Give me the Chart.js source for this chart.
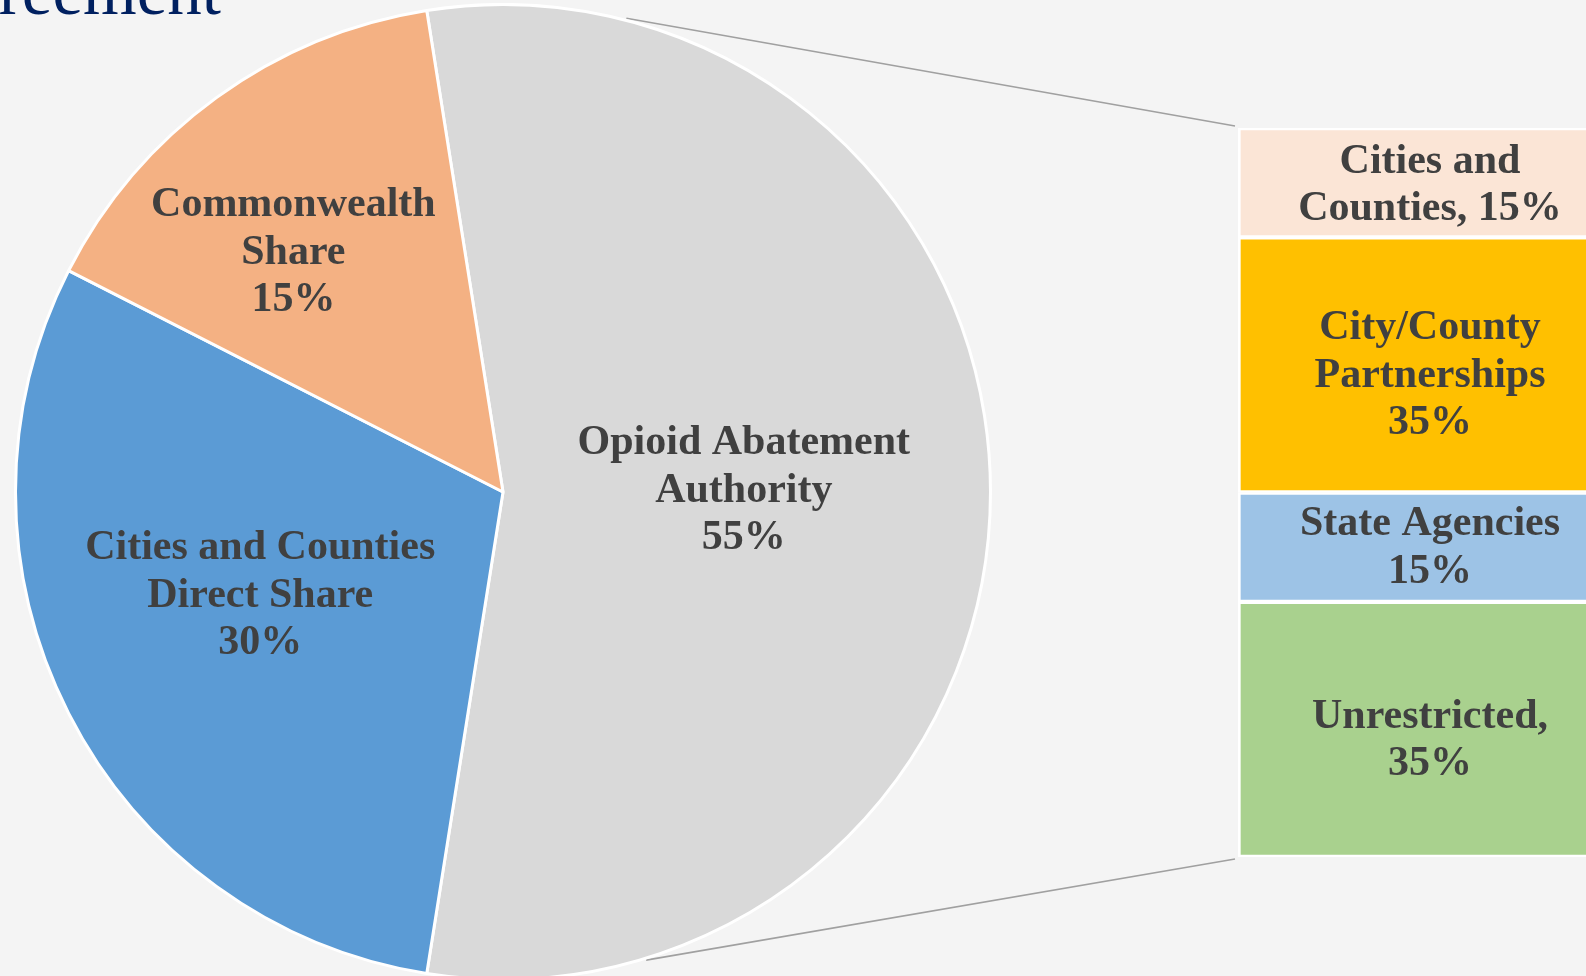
<!DOCTYPE html>
<html>
<head>
<meta charset="utf-8">
<script src="https://cdn.jsdelivr.net/npm/chart.js@4"></script>
<style>
  html, body { margin:0; padding:0; width:1586px; height:976px; overflow:hidden; background:#F4F4F4; }
  #title { position:absolute; right:1365px; top:-43px; font-family:"Liberation Serif", serif; font-size:69px; line-height:68px; color:#002060; white-space:nowrap; }
  #pieBox { position:absolute; left:14px; top:3px; width:978px; height:978px; }
  #barBox { position:absolute; left:1238px; top:128px; width:384px; height:729px; }
  #overlay { position:absolute; left:0; top:0; pointer-events:none; }
</style>
</head>
<body>
<div id="title">Agreement</div>
<canvas id="overlay" width="1586" height="976"></canvas>
<div id="pieBox"><canvas id="pie"></canvas></div>
<div id="barBox"><canvas id="bar"></canvas></div>
<script>
// ---- data ----
const pieCategories = ["Opioid Abatement Authority", "Cities and Counties Direct Share", "Commonwealth Share"];
const pieValues = [55, 30, 15];
const pieLabelLines = [["Opioid Abatement", "Authority", "55%"], ["Cities and Counties", "Direct Share", "30%"], ["Commonwealth", "Share", "15%"]];

// bar segments listed bottom to top
const barCategories = ["Unrestricted", "State Agencies", "City/County Partnerships", "Cities and Counties"];
const barValues = [35, 15, 35, 15];
const barLabelLines = [["Unrestricted,", "35%"], ["State Agencies", "15%"], ["City/County", "Partnerships", "35%"], ["Cities and", "Counties, 15%"]];

// ---- styles ----
const pieColors = ["#D9D9D9", "#5B9BD5", "#F4B183"];
const barColors = ["#A9D18E", "#9DC3E6", "#FFC000", "#FBE5D6"];
const labelFont = 'bold 42px "Liberation Serif", serif';
const labelColor = "#404040";
const lineH = 47.5;
// label centre offsets as fraction of radius (x, y)
const pieLabelPos = [[0.494, -0.002], [-0.498, 0.213], [-0.43, -0.490]];
// vertical nudges for bar labels (px)
const barLabelShift = [11, 1, 11, 3];
// connector angles on pie (degrees clockwise from top)
const connectorAngles = [14.6, 163.0];

function drawLines(ctx, lines, x, y) {
  ctx.save();
  ctx.font = labelFont;
  ctx.fillStyle = labelColor;
  ctx.textAlign = "center";
  ctx.textBaseline = "middle";
  const y0 = y - (lines.length - 1) * lineH / 2;
  lines.forEach((t, i) => ctx.fillText(t, x, y0 + i * lineH));
  ctx.restore();
}

const pieLabelPlugin = {
  id: "pieLabels",
  afterDraw(chart) {
    const meta = chart.getDatasetMeta(0);
    const ctx = chart.ctx;
    meta.data.forEach((arc, i) => {
      const r = arc.outerRadius;
      drawLines(ctx, pieLabelLines[i], arc.x + pieLabelPos[i][0] * r, arc.y + pieLabelPos[i][1] * r);
    });
  }
};

const barLabelPlugin = {
  id: "barLabels",
  afterDraw(chart) {
    const ctx = chart.ctx;
    chart.data.datasets.forEach((ds, i) => {
      const el = chart.getDatasetMeta(i).data[0];
      drawLines(ctx, barLabelLines[i], el.x, (el.y + el.base) / 2 + barLabelShift[i]);
    });
  }
};

Chart.defaults.animation = false;
Chart.defaults.devicePixelRatio = 1;

const pieChart = new Chart(document.getElementById("pie"), {
  type: "pie",
  data: {
    labels: pieCategories,
    datasets: [{ data: pieValues, backgroundColor: pieColors, borderColor: "#FFFFFF", borderWidth: 3 }]
  },
  options: {
    responsive: true,
    maintainAspectRatio: false,
    rotation: -9,
    layout: { padding: 0 },
    plugins: { legend: { display: false }, tooltip: { enabled: false } }
  },
  plugins: [pieLabelPlugin]
});

const barChart = new Chart(document.getElementById("bar"), {
  type: "bar",
  data: {
    labels: [""],
    datasets: barCategories.map((c, i) => ({
      label: c,
      data: [barValues[i]],
      backgroundColor: barColors[i],
      borderColor: "#FFFFFF",
      borderWidth: { top: 2.5, bottom: 2.5, left: 3, right: 3 },
      borderSkipped: false,
      categoryPercentage: 1,
      barPercentage: 1
    }))
  },
  options: {
    responsive: true,
    maintainAspectRatio: false,
    layout: { padding: 0 },
    scales: {
      x: { display: false, stacked: true },
      y: { display: false, stacked: true, min: 0, max: 100 }
    },
    plugins: { legend: { display: false }, tooltip: { enabled: false } }
  },
  plugins: [barLabelPlugin]
});

// connector lines
(function () {
  const ov = document.getElementById("overlay").getContext("2d");
  const pieRect = document.getElementById("pie").getBoundingClientRect();
  const barRect = document.getElementById("bar").getBoundingClientRect();
  const arc = pieChart.getDatasetMeta(0).data[0];
  const cx = pieRect.left + arc.x, cy = pieRect.top + arc.y, r = arc.outerRadius + 2;
  const metaTop = barChart.getDatasetMeta(barCategories.length - 1).data[0];
  const metaBot = barChart.getDatasetMeta(0).data[0];
  const bx = barRect.left + metaTop.x - metaTop.width / 2;
  const ends = [barRect.top + metaTop.y - 2, barRect.top + metaBot.base + 2];
  ov.strokeStyle = "#A0A0A0";
  ov.lineWidth = 1.6;
  connectorAngles.forEach((a, i) => {
    const t = a * Math.PI / 180;
    ov.beginPath();
    ov.moveTo(cx + r * Math.sin(t), cy - r * Math.cos(t));
    ov.lineTo(bx - 3, ends[i]);
    ov.stroke();
  });
})();
</script>
</body>
</html>
